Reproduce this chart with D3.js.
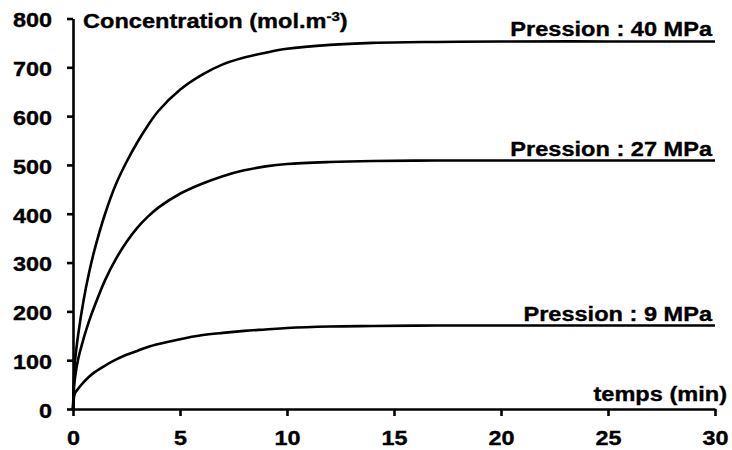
<!DOCTYPE html>
<html>
<head>
<meta charset="utf-8">
<script src="https://cdn.jsdelivr.net/npm/d3@7"></script>
<style>
  body { margin: 0; background: #fff; }
  text { font-family: "Liberation Sans", Arial, sans-serif; font-weight: bold; fill: #000; stroke: #000; stroke-width: 0.35px; }
</style>
</head>
<body>
<div id="graf"></div>
<script>
// données
temps = [0, 0.05, 0.1, 0.25, 0.5, 0.75, 1, 1.5, 2, 2.5, 3, 3.5, 4, 5, 6, 7, 8, 9, 10, 12, 14, 17, 20, 25, 30]
c40 = [0, 65, 100, 155, 224, 279, 325, 400, 460, 506, 546, 581, 611, 654, 684, 706, 720, 730, 738, 746, 750, 752, 753, 753, 753]
c27 = [0, 45, 66, 104, 145, 180, 210, 264, 307, 342, 371, 394, 413, 441, 461, 477, 489, 497, 502, 506, 508, 509, 509, 509, 509]
c9  = [0, 25, 33, 42, 55, 66, 75, 89, 101, 111, 119, 127, 133, 143, 151, 156, 160, 163, 166, 169, 170, 171, 171, 171, 171]
etiquettes = ['Pression : 40 MPa', 'Pression : 27 MPa', 'Pression : 9 MPa']
xTicks = [0, 5, 10, 15, 20, 25, 30]
yTicks = [0, 100, 200, 300, 400, 500, 600, 700, 800]

series = [c40, c27, c9].map((v, i) => ({ nom: etiquettes[i], valeurs: v.map((c, j) => ({ t: temps[j], c: c })) }))

ancho_total = 732
alto_total = 450
margins = { top: 18.5, left: 73, right: 17, bottom: 41 }
ancho = ancho_total - margins.left - margins.right
alto = alto_total - margins.top - margins.bottom
sx = 1.17 // le texte de la figure est étiré horizontalement

svg = d3.select('#graf').append('svg')
        .attr('width', ancho_total)
        .attr('height', alto_total)

g = svg.append('g')
       .attr('transform', `translate(${margins.left}, ${margins.top})`)

x = d3.scaleLinear().domain([0, 30]).range([0, ancho])
y = d3.scaleLinear().domain([0, 800]).range([alto, 0])

xAxisGroup = g.append('g')
              .attr('transform', `translate(0, ${alto})`)
              .call(d3.axisBottom(x).tickValues(xTicks).tickSize(7).tickSizeOuter(0))
yAxisGroup = g.append('g')
              .call(d3.axisLeft(y).tickValues(yTicks).tickSize(6).tickSizeOuter(0))

g.selectAll('.domain, .tick line')
 .attr('stroke', '#000')
 .attr('stroke-width', 2.6)

xAxisGroup.selectAll('text')
          .attr('y', 36).attr('dy', 0)
          .style('font-size', '20px')
          .attr('transform', `scale(${sx},1)`)
yAxisGroup.selectAll('text')
          .attr('x', -21 / sx).attr('dy', '0.42em')
          .style('font-size', '20px')
          .attr('transform', `scale(${sx},1)`)
g.selectAll('.tick text').attr('font-family', null).attr('font-size', null)

linea = d3.line()
          .x(d => x(d.t))
          .y(d => y(d.c))
          .curve(d3.curveCatmullRom.alpha(0.5))

g.selectAll('path.courbe')
 .data(series)
 .enter()
 .append('path')
   .attr('class', 'courbe')
   .attr('d', d => linea(d.valeurs))
   .attr('fill', 'none')
   .attr('stroke', '#000')
   .attr('stroke-width', 2.6)

g.selectAll('text.etiq')
 .data(series)
 .enter()
 .append('text')
   .attr('class', 'etiq')
   .attr('transform', d => `translate(${x(30) - 3}, ${y(d.valeurs[d.valeurs.length - 1].c) - 5}) scale(1.15,1)`)
   .attr('text-anchor', 'end')
   .style('font-size', '20.5px')
   .text(d => d.nom)

titulo = g.append('text')
          .attr('transform', `translate(${83 - margins.left}, ${28 - margins.top}) scale(1.15,1)`)
          .style('font-size', '20.5px')
titulo.append('tspan').text('Concentration (mol.m')
titulo.append('tspan').attr('dy', -7).style('font-size', '13px').text('-3')
titulo.append('tspan').attr('dy', 7).text(')')

g.append('text')
 .attr('transform', `translate(${727 - margins.left}, ${401 - margins.top}) scale(1.15,1)`)
 .attr('text-anchor', 'end')
 .style('font-size', '20.5px')
 .text('temps (min)')
</script>
</body>
</html>
